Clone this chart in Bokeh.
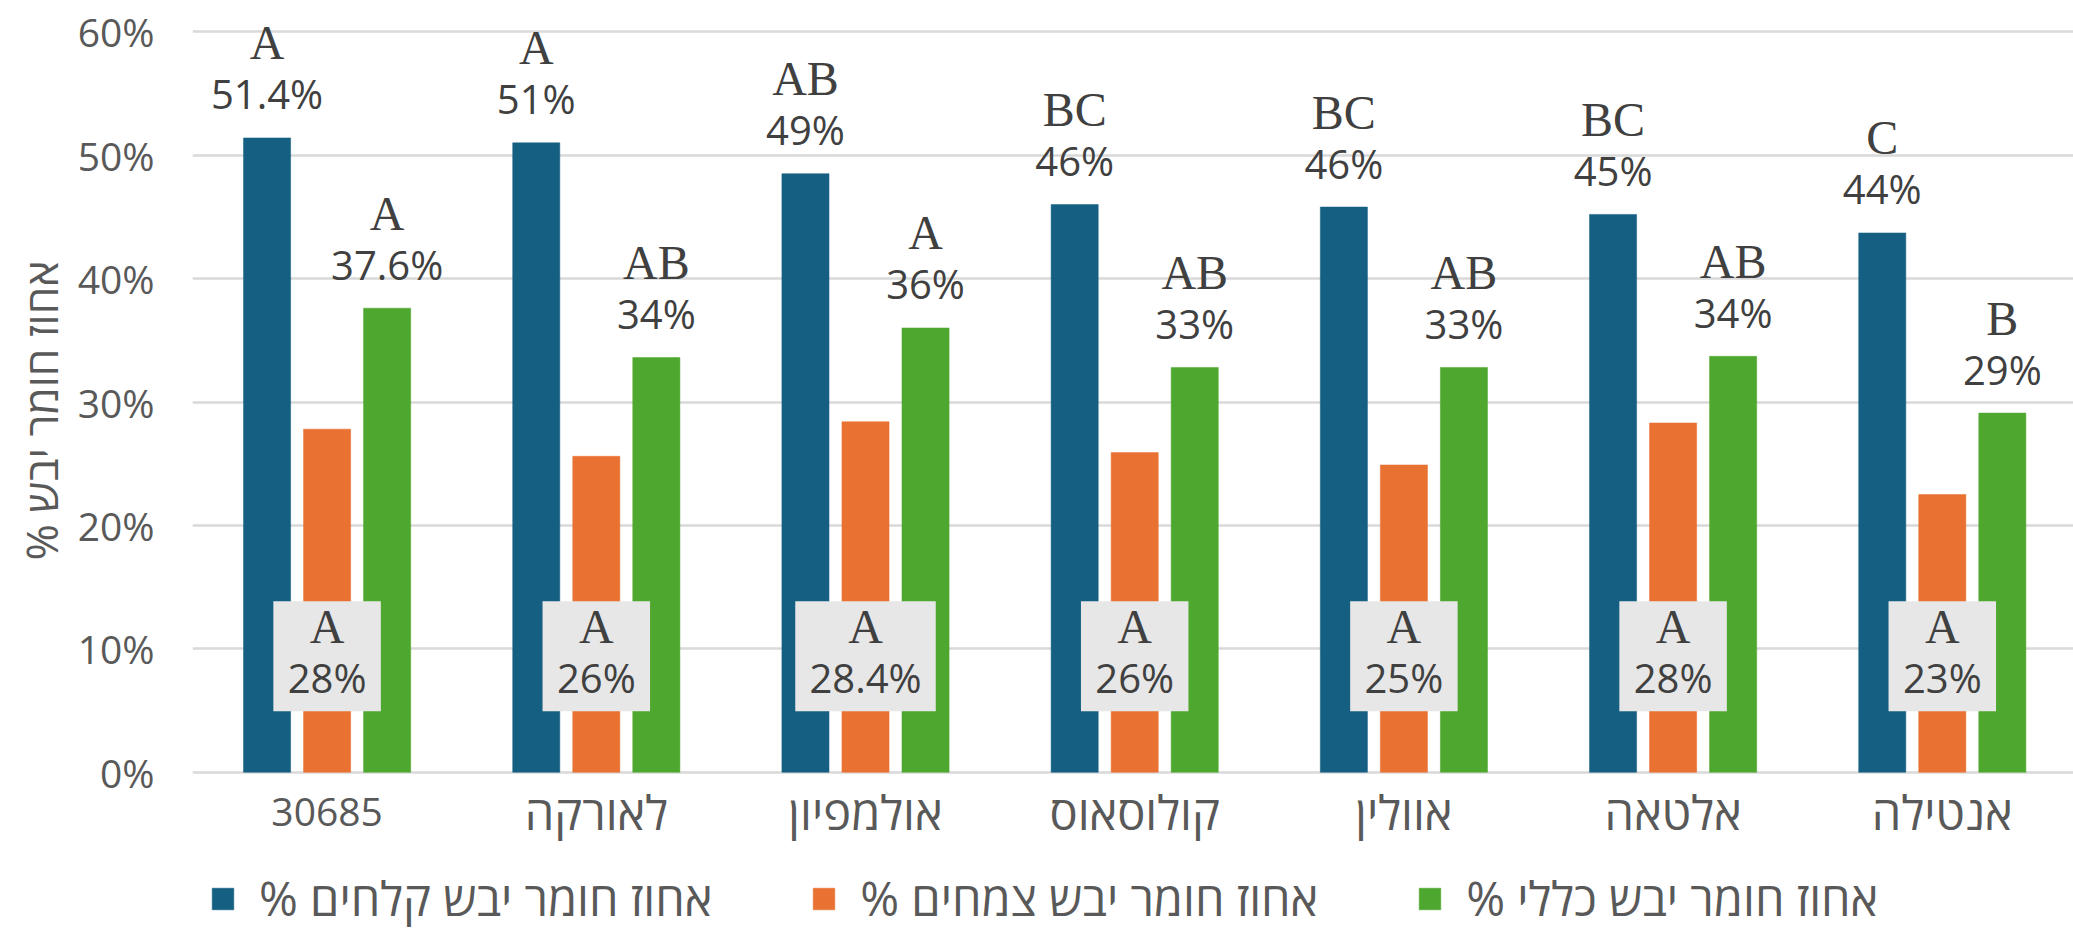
from bokeh.plotting import figure
from bokeh.models import ColumnDataSource, Range1d, FixedTicker, Legend, LegendItem, Title
from bokeh.core.properties import value
from bokeh.embed import file_html
from bokeh.resources import INLINE

# ---------------- data ----------------
categories = ["30685", "לאורקה", "אולמפיון", "קולוסאוס", "אוולין", "אלטאה", "אנטילה"]
cobs = [51.4, 51.0, 48.5, 46.0, 45.8, 45.2, 43.7]
plants = [27.8, 25.6, 28.4, 25.9, 24.9, 28.3, 22.5]
total = [37.6, 33.6, 36.0, 32.8, 32.8, 33.7, 29.1]
cobs_labels = ["51.4%", "51%", "49%", "46%", "46%", "45%", "44%"]
plants_labels = ["28%", "26%", "28.4%", "26%", "25%", "28%", "23%"]
total_labels = ["37.6%", "34%", "36%", "33%", "33%", "34%", "29%"]
cobs_groups = ["A", "A", "AB", "BC", "BC", "BC", "C"]
plants_groups = ["A", "A", "A", "A", "A", "A", "A"]
total_groups = ["A", "AB", "A", "AB", "AB", "AB", "B"]
series_names = ["% אחוז חומר יבש קלחים", "% אחוז חומר יבש צמחים", "% אחוז חומר יבש כללי"]
y_ticks = [0, 10, 20, 30, 40, 50, 60]
y_title = "% אחוז חומר יבש"

# ---------------- style / layout ----------------
COLORS = ["#156082", "#E97132", "#4EA72E"]
TXT = "#404040"
AXT = "#595959"
W, H = 2073, 930
BORDER_L = 192
FRAME_W = W - BORDER_L
CAT_PX = 269.2
X_END = FRAME_W / CAT_PX
PXU = 12.344           # pixels per percent unit
ZERO_PX = 771.7        # 0% line, px from top
Y_END = 60 + 31.3 / PXU
Y_START = -(H - ZERO_PX) / PXU
BAR_W = 0.175
DODGE = 0.223

p = figure(width=W, height=H, x_range=Range1d(0, X_END), y_range=Range1d(Y_START, Y_END),
           output_backend="svg", toolbar_location=None,
           min_border_left=BORDER_L, min_border_right=0, min_border_top=0,
           min_border_bottom=0)
p.outline_line_color = None
p.background_fill_color = "white"
p.border_fill_color = "white"

centers = [i + 0.5 for i in range(len(categories))]
series = [(cobs, cobs_labels, cobs_groups), (plants, plants_labels, plants_groups),
          (total, total_labels, total_groups)]
offsets = [-DODGE, 0.0, DODGE]

for (vals, labs, grps), off, col in zip(series, offsets, COLORS):
    src = ColumnDataSource(dict(x=[c + off for c in centers], top=vals))
    p.vbar(x="x", top="top", bottom=0, width=BAR_W, source=src,
           fill_color=col, line_color=col, line_alpha=0.5)

# labels above cobs and total bars
for (vals, labs, grps), off in [(series[0], offsets[0]), (series[2], offsets[2])]:
    src = ColumnDataSource(dict(
        x=[c + off for c in centers],
        yn=[v + 44 / PXU for v in vals],
        yl=[v + 95 / PXU for v in vals],
        lab=labs, grp=grps))
    p.text(x="x", y="yn", text="lab", source=src, text_font=value("Open Sans"),
           text_font_size="40px", text_align="center", text_baseline="middle",
           text_color=TXT)
    p.text(x="x", y="yl", text="grp", source=src, text_font=value("Liberation Serif"),
           text_font_size="48px", text_align="center", text_baseline="middle",
           text_color=TXT)

# boxed labels for plants
BOX_Y = 9.4
bsrc = ColumnDataSource(dict(
    x=[c + offsets[1] for c in centers],
    y=[BOX_Y] * len(centers),
    yl=[BOX_Y + 30 / PXU] * len(centers),
    yn=[BOX_Y - 21 / PXU] * len(centers),
    w=[58 + 16.5 * len(s) for s in plants_labels],
    lab=plants_labels, grp=plants_groups))
p.rect(x="x", y="y", width="w", height=110, width_units="screen", height_units="screen",
       source=bsrc, fill_color="#E7E7E7", line_color=None)
p.text(x="x", y="yn", text="lab", source=bsrc, text_font=value("Open Sans"),
       text_font_size="40px", text_align="center", text_baseline="middle", text_color=TXT)
p.text(x="x", y="yl", text="grp", source=bsrc, text_font=value("Liberation Serif"),
       text_font_size="48px", text_align="center", text_baseline="middle", text_color=TXT)

# category labels (drawn under the 0% line)
csrc = ColumnDataSource(dict(
    x=centers,
    y=[-(811 - ZERO_PX) / PXU] * len(centers),
    name=categories,
    fs=["39px" if c.isdigit() else "47px" for c in categories]))
p.text(x="x", y="y", text="name", text_font_size="fs", source=csrc,
       text_font=value("Open Sans"), text_align="center", text_baseline="middle",
       text_color=AXT)

# axes
p.xaxis.visible = False
p.yaxis.ticker = FixedTicker(ticks=y_ticks)
p.yaxis.major_label_overrides = {t: f"{t}%" for t in y_ticks}
p.yaxis.major_label_text_font = "Open Sans"
p.yaxis.major_label_text_font_size = "39px"
p.yaxis.major_label_text_color = AXT
p.yaxis.major_label_standoff = 32
p.yaxis.axis_line_color = None
p.yaxis.major_tick_line_color = None
p.yaxis.minor_tick_line_color = None

ytitle = Title(text=y_title, align="left", offset=370, standoff=8,
               text_font="Open Sans", text_font_size="44px", text_font_style="normal",
               text_color=AXT)
p.add_layout(ytitle, "left")

p.xgrid.grid_line_color = None
p.ygrid.ticker = FixedTicker(ticks=y_ticks)
p.ygrid.grid_line_color = "#D9D9D9"
p.ygrid.grid_line_width = 2.5

# legend keys: one bar each, placed below the visible y range so only the key shows
keys = []
for col in COLORS:
    keys.append(p.vbar(x=[0.5], top=[Y_START - 20], bottom=Y_START - 30, width=0.1,
                       fill_color=col, line_color=col, line_alpha=0.5))

legend = Legend(items=[LegendItem(label=n, renderers=[r]) for n, r in zip(series_names, keys)],
                orientation="horizontal", location=(17, 0))
legend.label_text_font = "Open Sans"
legend.label_text_font_size = "47px"
legend.label_text_color = AXT
legend.glyph_width = 27
legend.glyph_height = 27
legend.label_standoff = 23
legend.spacing = 98
legend.padding = 0
legend.margin = 0
legend.border_line_color = None
legend.background_fill_alpha = 0
p.add_layout(legend, "center")

open("out.html", "w").write(file_html(p, INLINE))
